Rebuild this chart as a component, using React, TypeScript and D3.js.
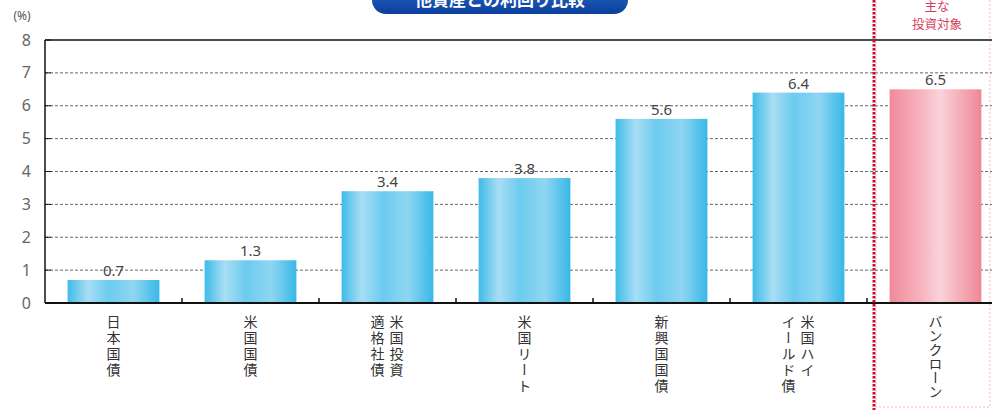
import React from "react";
import * as d3 from "d3";

const categories = ["日本国債", "米国国債", "米国投資|適格社債", "米国リート", "新興国国債", "米国ハイ|イールド債", "バンクローン"];
const values = [0.7, 1.3, 3.4, 3.8, 5.6, 6.4, 6.5];
const highlight = [false, false, false, false, false, false, true];
const yTicks = [0, 1, 2, 3, 4, 5, 6, 7, 8];
const title = "他資産との利回り比較";

const W = 992;
const H = 410;
const left = 45;
const right = 1004;
const top = 40;
const bottom = 303;

export default function App() {
  const x = d3.scaleBand<string>().domain(categories).range([left, right]).paddingInner(0.33).paddingOuter(0.165);
  const y = d3.scaleLinear().domain([0, 8]).range([bottom, top]);
  const step = x.step();
  const bw = x.bandwidth();
  const font = "'Noto Sans CJK JP', 'Noto Sans', sans-serif";
  const divX = (x(categories[6]) as number) - (step - bw) / 2 + 7;

  return (
    <svg width={W} height={H} style={{ position: "absolute", left: 0, top: 0, background: "#fff" }} fontFamily={font}>
      <defs>
        <linearGradient id="blueG" x1="0" x2="1" y1="0" y2="0">
          <stop offset="0%" stopColor="#3ebbe8" />
          <stop offset="22%" stopColor="#a8def4" />
          <stop offset="45%" stopColor="#6ccbef" />
          <stop offset="72%" stopColor="#8fd6f2" />
          <stop offset="100%" stopColor="#38b8e7" />
        </linearGradient>
        <linearGradient id="pinkG" x1="0" x2="1" y1="0" y2="0">
          <stop offset="0%" stopColor="#f08a9a" />
          <stop offset="35%" stopColor="#f6b4bf" />
          <stop offset="55%" stopColor="#fad3da" />
          <stop offset="80%" stopColor="#f4a8b4" />
          <stop offset="100%" stopColor="#ef8797" />
        </linearGradient>
        <linearGradient id="titleG" x1="0" x2="0" y1="0" y2="1">
          <stop offset="0%" stopColor="#2f6fd0" />
          <stop offset="100%" stopColor="#0b3f9c" />
        </linearGradient>
      </defs>

      {/* highlight region */}
      <rect x={divX + 2} y={-2} width={W - divX - 4} height={H - 1} fill="none" stroke="#f4b8c4" strokeWidth={1} strokeDasharray="2,2" />

      {/* title banner */}
      <rect x={372} y={-20} width={256} height={34} rx={14} fill="url(#titleG)" />
      <text x={500} y={6} textAnchor="middle" fill="#fff" fontSize={17} fontWeight="bold">{title}</text>

      {/* gridlines */}
      {yTicks.filter((t) => t > 0 && t < 8).map((t) => (
        <line key={t} x1={left} x2={right} y1={y(t)} y2={y(t)} stroke="#666" strokeWidth={1} strokeDasharray="3,2" />
      ))}

      {/* bars */}
      {categories.map((c, i) => (
        <rect key={c} x={x(c)} y={y(values[i])} width={bw} height={bottom - y(values[i])} fill={highlight[i] ? "url(#pinkG)" : "url(#blueG)"} />
      ))}

      {/* value labels */}
      {categories.map((c, i) => (
        <text key={c} x={(x(c) as number) + bw / 2} y={y(values[i]) - 4} textAnchor="middle" fill="#444" fontSize={15} fontFamily="'Noto Sans', sans-serif">
          {values[i].toFixed(1)}
        </text>
      ))}

      {/* axes frame */}
      <line x1={left} x2={W} y1={top} y2={top} stroke="#111" strokeWidth={1.5} />
      <line x1={left} x2={W} y1={bottom} y2={bottom} stroke="#111" strokeWidth={2} />
      <line x1={left} x2={left} y1={top} y2={bottom} stroke="#111" strokeWidth={1.5} />
      {yTicks.map((t) => (
        <line key={t} x1={left} x2={left + 6} y1={y(t)} y2={y(t)} stroke="#111" strokeWidth={1} />
      ))}
      {categories.slice(0, -1).map((c) => {
        const bx = (x(c) as number) + bw + (step - bw) / 2;
        return <line key={c} x1={bx} x2={bx} y1={bottom} y2={bottom - 5} stroke="#111" strokeWidth={1.5} />;
      })}

      {/* y tick labels */}
      {yTicks.map((t) => (
        <text key={t} x={31} y={y(t)} dy="0.35em" textAnchor="end" fill="#666" fontSize={16} fontFamily="'Noto Sans', sans-serif">
          {t}
        </text>
      ))}
      <text x={22} y={20} textAnchor="middle" fill="#555" fontSize={12} fontFamily="'Noto Sans', sans-serif">(%)</text>

      {/* category labels (vertical) */}
      {categories.map((c) => {
        const cols = c.split("|");
        const cx = (x(c) as number) + bw / 2;
        return cols.map((col, j) => {
          const off = cols.length === 1 ? 0 : (j === 0 ? 9 : -10);
          return (
            <text
              key={c + j}
              x={cx + off}
              y={315}
              fill="#333"
              fontSize={14}
              letterSpacing={c.startsWith("バ") ? 0 : 2}
              style={{ writingMode: "vertical-rl", textOrientation: "upright" } as React.CSSProperties}
            >
              {col}
            </text>
          );
        });
      })}

      {/* divider */}
      <line x1={divX} x2={divX} y1={0} y2={H} stroke="#c8102e" strokeWidth={3} strokeDasharray="2.5,1.5" />

      {/* highlight label */}
      <text x={937} y={11} textAnchor="middle" fill="#d43d5c" fontSize={12.5}>主な</text>
      <text x={937} y={29} textAnchor="middle" fill="#d43d5c" fontSize={12.5}>投資対象</text>
    </svg>
  );
}
